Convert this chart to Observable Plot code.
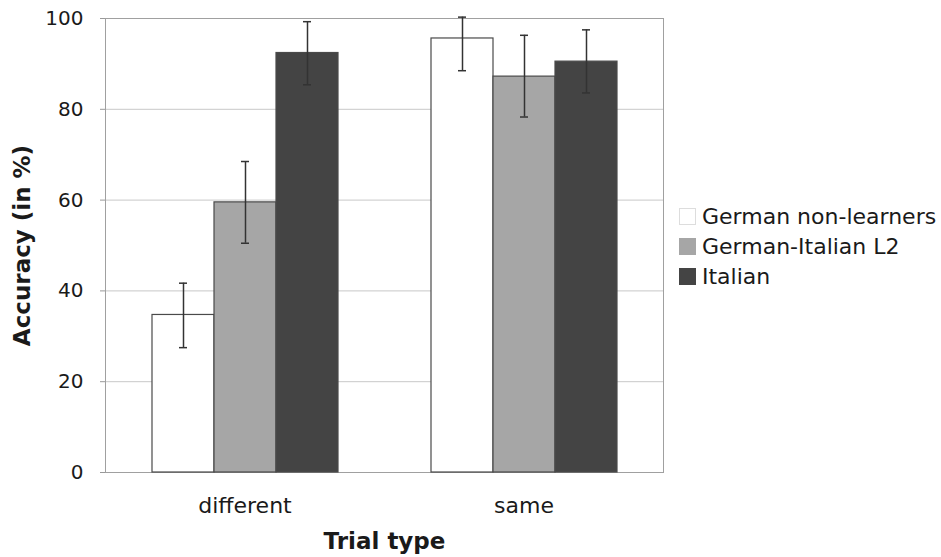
<!DOCTYPE html>
<html>
<head>
<meta charset="utf-8">
<script src="https://cdn.jsdelivr.net/npm/d3@7"></script>
<script src="https://cdn.jsdelivr.net/npm/@observablehq/plot@0.6"></script>
<style>
  html, body { margin: 0; padding: 0; background: #fff; }
  #wrap { position: relative; width: 941px; height: 557px; }
  #legend { position: absolute; left: 679px; top: 201px; font-family: "DejaVu Sans", sans-serif; font-size: 22px; color: #1a1a1a; }
  #legend .row { display: flex; align-items: center; height: 30px; }
  #legend .sw { width: 17px; height: 17px; margin-right: 6px; box-sizing: border-box; }
</style>
</head>
<body>
<div id="wrap"></div>
<script>
const trialTypes = ["different", "same"];
const groups = ["German non-learners", "German-Italian L2", "Italian"];
const groupColors = ["#ffffff", "#a6a6a6", "#444444"];
const meanDifferent = [34.7, 59.5, 92.4];
const lowDifferent  = [27.5, 50.5, 85.4];
const highDifferent = [41.7, 68.5, 99.3];
const meanSame = [95.6, 87.2, 90.5];
const lowSame  = [88.5, 78.3, 83.6];
const highSame = [100.3, 96.3, 97.5];
const yTicks = [0, 20, 40, 60, 80, 100];

const rows = [];
groups.forEach((g, i) => {
  rows.push({type: "different", group: g, mean: meanDifferent[i], lo: lowDifferent[i], hi: highDifferent[i]});
  rows.push({type: "same", group: g, mean: meanSame[i], lo: lowSame[i], hi: highSame[i]});
});

const chart = Plot.plot({
  width: 941,
  height: 557,
  marginLeft: 105,
  marginRight: 278,
  marginTop: 18,
  marginBottom: 85,
  style: {fontFamily: "DejaVu Sans, sans-serif", fontSize: "20px", color: "#1a1a1a", background: "#fff", overflow: "visible"},
  fx: {domain: trialTypes, padding: 0},
  x: {domain: groups, paddingInner: 0, paddingOuter: 0.725, axis: null},
  y: {domain: [0, 100]},
  color: {domain: groups, range: groupColors},
  marks: [
    Plot.gridY(yTicks.filter(t => t > 0 && t < 100), {stroke: "#c8c8c8", strokeOpacity: 1}),
    Plot.frame({facet: "super", stroke: "#a0a0a0"}),
    Plot.barY(rows, {fx: "type", x: "group", y: "mean", fill: "group", stroke: "#4a4a4a", strokeWidth: 1.2}),
    Plot.ruleX(rows, {fx: "type", x: "group", y1: "lo", y2: "hi", stroke: "#333", strokeWidth: 1.5}),
    Plot.tickY(rows, {fx: "type", x: "group", y: "lo", stroke: "#333", strokeWidth: 1.5, insetLeft: 27, insetRight: 27}),
    Plot.tickY(rows, {fx: "type", x: "group", y: "hi", stroke: "#333", strokeWidth: 1.5, insetLeft: 27, insetRight: 27}),
    Plot.axisY({ticks: yTicks, tickSize: 5, tickPadding: 17, stroke: "#999", label: "Accuracy (in %)", labelAnchor: "center", labelOffset: 92, labelArrow: "none"}),
    Plot.axisFx({anchor: "bottom", tickSize: 0, tickPadding: 25, fontSize: 22, label: "Trial type", labelAnchor: "center", labelOffset: 76, labelArrow: "none"})
  ]
});

document.getElementById("wrap").appendChild(chart);
d3.select(chart).selectAll('g[aria-label="y-axis label"] text, g[aria-label="fx-axis label"] text')
  .style("font-weight", "bold").style("font-size", "23px");

const legend = d3.select("#wrap").append("div").attr("id", "legend");
groups.forEach((g, i) => {
  const row = legend.append("div").attr("class", "row");
  row.append("div").attr("class", "sw").style("background", groupColors[i])
    .style("border", i === 0 ? "1px solid #ddd" : "none");
  row.append("span").text(g);
});
</script>
</body>
</html>
